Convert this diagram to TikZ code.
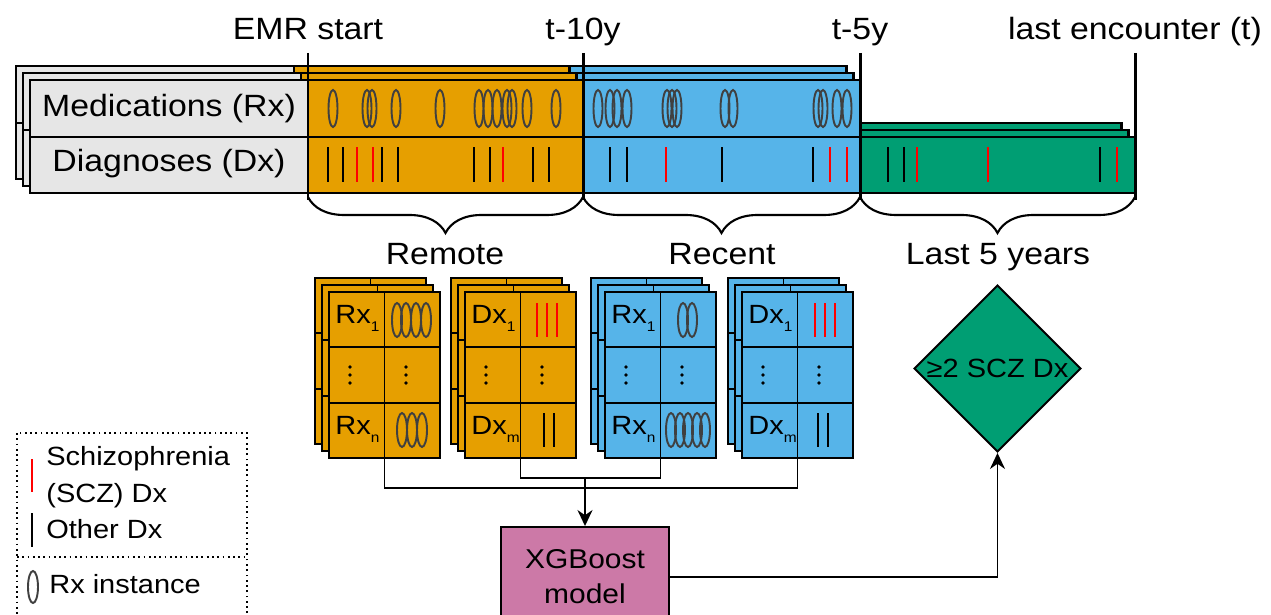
\documentclass[tikz,border=0pt]{standalone}
\usepackage{fontspec}
\setmainfont[FakeStretch=1.1]{Liberation Sans}
\usetikzlibrary{shapes.geometric,decorations.pathreplacing,arrows.meta}
\definecolor{remotecol}{HTML}{E69F00}
\definecolor{recentcol}{HTML}{56B4E9}
\definecolor{lastcol}{HTML}{009E73}
\definecolor{modelcol}{HTML}{CC79A7}
\definecolor{labelgray}{HTML}{E6E6E6}
\definecolor{rxgray}{HTML}{404040}
\definecolor{sczred}{HTML}{FF0000}
\newcommand{\lowidx}[1]{\raisebox{-5pt}{\fontsize{8}{8}\selectfont #1}}
\newcommand{\gridstack}[4]{%
  \foreach \k in {2,1,0}{%
    \begin{scope}[shift={(-7*\k,-7*\k)}]
      \node[gridbox,fill=#2] (#1\k) at (#3,#4) {};
      \draw[gridline] (#1\k.north) -- (#1\k.south);
      \draw[gridline] ({#3-55.5},{#4-27.67}) -- ({#3+55.5},{#4-27.67});
      \draw[gridline] ({#3-55.5},{#4+27.67}) -- ({#3+55.5},{#4+27.67});
    \end{scope}
  }}
\tikzset{sheet/.style={draw,line width=1.7pt},
         marker/.style={line width=1.7pt},
         big/.style={font=\fontsize{17.5}{21}\selectfont,inner sep=0pt},
         mid/.style={font=\fontsize{15}{21}\selectfont,inner sep=0pt},
         rxmark/.style={draw=rxgray,line width=1.1pt},
         dxmark/.style={line width=1.2pt},
         sczmark/.style={dxmark,draw=sczred},
         gridbox/.style={draw,line width=1.1pt,minimum width=2.22cm,minimum height=3.32cm,
                         inner sep=0pt,outer sep=0pt},
         gridline/.style={line width=1.1pt},
         link/.style={line width=1.1pt},
         arrowlink/.style={link,-{Stealth[length=0.32cm,width=0.3cm]}},
         modelbox/.style={draw,line width=1.1pt,fill=modelcol,minimum width=3.36cm,
                          minimum height=2cm,align=center,inner sep=0pt,
                          font=\fontsize{15.5}{20}\selectfont},
         decision/.style={diamond,draw,line width=1.1pt,fill=lastcol,minimum width=3.34cm,
                          minimum height=3.34cm,inner sep=0pt},
         legendbox/.style={dotted,line width=1pt},
         curly/.style={decorate,decoration={brace,mirror,amplitude=0.72cm},line width=1.2pt}
         }
\begin{document}
\begin{tikzpicture}[x=0.02cm,y=-0.02cm]
\useasboundingbox (0,0) rectangle (1271,615);

\foreach \k in {2,1,0}{
  \begin{scope}[shift={(-7*\k,-7*\k)}]
    \draw[sheet,fill=labelgray] (30,80) rectangle (308,193);
    \draw[sheet,fill=remotecol] (308,80) rectangle (583,193);
    \draw[sheet,fill=recentcol] (583,80) rectangle (860,193);
    \draw[sheet,fill=lastcol] (860,137) rectangle (1135,193);
    \draw[sheet] (30,137) -- (860,137);
  \end{scope}
}
\node[big,anchor=base] (medlab) at (169,116) {Medications (Rx)};
\node[big,anchor=base] (dxlab) at (169,172) {Diagnoses (Dx)};

\foreach \ex in {333,367,372,396,440,479,488,497,507,512,527,556,
                 598,610,617,627,667,672,677,725,733,818,823,837,847}
  \draw[rxmark] (\ex,108.5) ellipse [x radius=0.09cm,y radius=0.37cm];
\foreach \tx in {328,343,382,398,474,490,533,549,610,627,722,813,888,904,1100}
  \draw[dxmark] (\tx,147) -- (\tx,182);
\foreach \tx in {357,373,503,666,830,847,917,988,1117}
  \draw[sczmark] (\tx,147) -- (\tx,182);

\node[big,anchor=base] (emr) at (308,40) {EMR start};
\node[big,anchor=base] (tten) at (583,40) {t-10y};
\node[big,anchor=base] (tfive) at (860,40) {t-5y};
\node[big,anchor=base] (tlast) at (1135,40) {last encounter (t)};
\foreach \mx in {308,583,860,1135}
  \draw[marker] (\mx,53) -- (\mx,200);

\draw[curly] (308,197) -- (583,197);
\draw[curly] (583,197) -- (860,197);
\draw[curly] (860,197) -- (1135,197);
\node[big,anchor=base] (remlab) at (445,264) {Remote};
\node[big,anchor=base] (reclab) at (722,264) {Recent};
\node[big,anchor=base] (lastlab) at (998,264) {Last 5 years};

\gridstack{remRx}{remotecol}{384.5}{375}
\gridstack{remDx}{remotecol}{520.5}{375}
\gridstack{recRx}{recentcol}{660.5}{375}
\gridstack{recDx}{recentcol}{797.5}{375}

\node[mid,anchor=base west] (remRxa) at (335,323) {Rx\lowidx{1}};
\node[mid,anchor=base west] (remRxb) at (335,434) {Rx\lowidx{n}};
\node[mid,anchor=base west] (remDxa) at (471,323) {Dx\lowidx{1}};
\node[mid,anchor=base west] (remDxb) at (471,434) {Dx\lowidx{m}};
\node[mid,anchor=base west] (recRxa) at (611,323) {Rx\lowidx{1}};
\node[mid,anchor=base west] (recRxb) at (611,434) {Rx\lowidx{n}};
\node[mid,anchor=base west] (recDxa) at (748,323) {Dx\lowidx{1}};
\node[mid,anchor=base west] (recDxb) at (748,434) {Dx\lowidx{m}};
\foreach \dx in {350,406,486,542,626,682,763,819}
  \foreach \dy in {367,375,383}
    \fill (\dx,\dy) circle [radius=0.036cm];

\foreach \ex in {397,406,416,426,683,692}
  \draw[rxmark] (\ex,320) ellipse [x radius=0.1cm,y radius=0.34cm];
\foreach \ex in {402,412,422,671,680,688,697,705}
  \draw[rxmark] (\ex,430) ellipse [x radius=0.1cm,y radius=0.34cm];
\foreach \tx in {537,547,557,815,825,835}
  \draw[sczmark] (\tx,303) -- (\tx,337);
\foreach \tx in {544,554,818,828}
  \draw[dxmark] (\tx,413) -- (\tx,447);

\node[modelbox] (xgb) at (585,577) {XGBoost\\model};
\node[decision] (sczdec) at (997.5,368.5) {};
\node[mid] (sczlab) at (sczdec.center) {≥2 SCZ Dx};

\coordinate (inner) at (585,478);
\coordinate (outer) at (585,488);
\draw[link] (remRx0.south) |- (outer) -| (recDx0.south);
\draw[link] (remDx0.south) |- (inner) -| (recRx0.south);
\draw[arrowlink] (inner) -- (xgb.north);
\draw[arrowlink] (xgb.east) -| (sczdec.south);

\draw[legendbox] (17,433) rectangle (247,640);
\draw[legendbox] (17,557) -- (247,557);
\draw[sczmark] (32,459) -- (32,492);
\draw[dxmark] (32,513) -- (32,547);
\draw[rxmark] (33,587) ellipse [x radius=0.1cm,y radius=0.32cm];
\node[mid,anchor=base west,align=left] (legscz) at (46,502) {Schizophrenia\\(SCZ) Dx};
\node[mid,anchor=base west] (legother) at (46,538) {Other Dx};
\node[mid,anchor=base west] (legrx) at (49,593) {Rx instance};
\end{tikzpicture}
\end{document}
